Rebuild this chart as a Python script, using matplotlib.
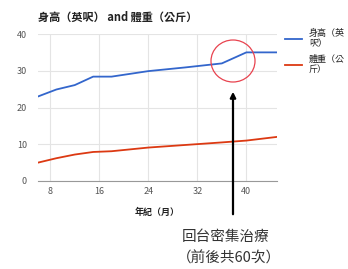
import matplotlib.pyplot as plt
from matplotlib.patches import Ellipse

plt.rcParams['font.family'] = ['Noto Sans CJK TC', 'DejaVu Sans']

months = [6, 9, 12, 15, 18, 24, 30, 36, 40, 45]
height = [23, 24.9, 26.1, 28.4, 28.4, 29.9, 30.9, 32, 35, 35]
weight = [5, 6.2, 7.2, 7.9, 8.1, 9.1, 9.8, 10.5, 11, 12]
xticks = [8, 16, 24, 32, 40]
yticks = [0, 10, 20, 30, 40]

fig = plt.figure(figsize=(3.48, 2.69), dpi=100)
ax = fig.add_axes([38/348, 1-181/269, (277-38)/348, (181-34)/269])

ax.plot(months, height, color='#3366cc', lw=1.3, label='身高（英\n呎）')
ax.plot(months, weight, color='#dc3912', lw=1.3, label='體重（公\n斤）')

ax.set_xlim(6, 45)
ax.set_ylim(0, 40)
ax.set_xticks(xticks)
ax.set_yticks(yticks)
ax.grid(color='#e4e4e4', lw=0.8)
ax.set_axisbelow(True)
for s in ['top', 'right', 'left']:
    ax.spines[s].set_visible(False)
ax.spines['bottom'].set_color('#999999')
ax.tick_params(length=0, labelsize=6.5, colors='#555555', pad=4)
ax.tick_params(axis='y', pad=8)

ax.set_xlabel('年紀（月）', fontsize=6.5, style='italic', fontweight='bold',
              color='#222222', labelpad=9)
fig.text(38/348, 1-17/269, '身高（英呎） and 體重（公斤）', fontsize=8,
         fontweight='bold', color='#222222', va='center')

ax.legend(loc='upper left', bbox_to_anchor=(1.02, 1.06), frameon=False, fontsize=6.5,
          handlelength=1.8, labelspacing=0.7, borderaxespad=0, labelcolor='#222222')

# red circle and arrow annotation
circ = Ellipse((233/348, 1-61/269), 44/348, 42/269, transform=fig.transFigure,
               fill=False, ec='#e8434f', lw=0.9)
fig.add_artist(circ)
ax.annotate('', xy=(233/348, 1-89/269), xytext=(233/348, 1-217/269),
            xycoords='figure fraction', textcoords='figure fraction',
            arrowprops=dict(arrowstyle='-|>', color='black', lw=1.6, mutation_scale=8),
            annotation_clip=False)
fig.text(226/348, 1-237/269, '回台密集治療', fontsize=10.5, color='#333333',
         ha='center', va='center')
fig.text(229/348, 1-258/269, '（前後共60次）', fontsize=10.5, color='#333333',
         ha='center', va='center')

fig.savefig('out.png', dpi=100)
